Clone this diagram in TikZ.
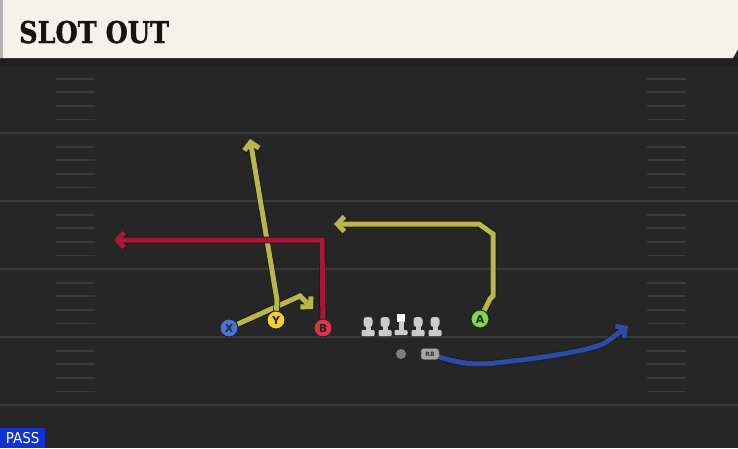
\documentclass[tikz,border=0pt]{standalone}
\usepackage{fontspec}
\setmainfont{DejaVu Sans}
\newfontfamily\titlefont{DejaVu Serif}[FakeStretch=0.85,FakeBold=1.2]
\newfontfamily\passfont{DejaVu Sans Condensed}
\usetikzlibrary{arrows.meta}
\definecolor{field}{HTML}{262626}
\definecolor{yardline}{HTML}{3A3A3A}
\definecolor{hashc}{HTML}{3A3A3A}
\definecolor{header}{HTML}{F4F2EB}
\definecolor{routey}{HTML}{B9B64E}
\definecolor{router}{HTML}{A9163B}
\definecolor{routeb}{HTML}{2B4CA2}
\definecolor{px}{HTML}{4A74DA}
\definecolor{py}{HTML}{F3CF2F}
\definecolor{pb}{HTML}{E23447}
\definecolor{pa}{HTML}{7ED84B}
\definecolor{lineman}{HTML}{CBCBCB}
\definecolor{passblue}{HTML}{1232D2}
\tikzset{
  route/.style={line width=5pt, line join=miter,
    preaction={draw=black!90, line width=6.6pt, -{Straight Barb[length=7pt,width=15pt,line width=6.6pt]}},
    -{Straight Barb[length=7pt,width=15pt,line width=5pt]}},
  player/.style={circle, draw=black!85, line width=1pt, minimum size=18pt, inner sep=0pt,
    font=\fontsize{11}{11}\selectfont\bfseries, text=black!85},
  hashmark/.style={draw=hashc, line width=1.8pt},
  yard/.style={draw=yardline, line width=2pt},
  ol/.style={fill=lineman, draw=none}
}
\begin{document}
\begin{tikzpicture}[x=1pt,y=-1pt]
\useasboundingbox (0,0) rectangle (738,448);
% field
\fill[field] (0,0) rectangle (738,448);
% yard lines
\foreach \yy in {133,201,269,337,405} {
  \draw[yard] (0,\yy) -- (738,\yy);
}
% hash marks
\foreach \base in {65,133,201,269,337} {
  \foreach \k in {1,2,3,4} {
    \draw[hashmark] (56,{\base+13.6*\k}) -- (95,{\base+13.6*\k});
    \draw[hashmark] (647,{\base+13.6*\k}) -- (686,{\base+13.6*\k});
  }
}
% header
\fill[black!88] (0,57) rectangle (738,66);
\fill[header] (0,0) -- (738,0) -- (738,49) -- (733,58) -- (0,58) -- cycle;
\fill[black!30] (0,0) rectangle (3,58);
\node[anchor=base west, inner sep=0pt, font=\titlefont\bfseries\fontsize{30}{30}\selectfont, text=black!92] (title) at (19,43) {SLOT OUT};
% PASS label
\node[anchor=south west, fill=passblue, text=white, inner sep=0pt, minimum width=45pt, minimum height=20pt,
  font=\passfont\fontsize{15}{15}\selectfont] (pass) at (0,448) {PASS};

% players (positions)
\coordinate (Xc) at (229,328);
\coordinate (Yc) at (276,320);
\coordinate (Bc) at (323,328);
\coordinate (Ac) at (480,319);
\coordinate (RBc) at (430,354);
% waypoints
\coordinate (x1) at (300,296);
\coordinate (x2) at (313,309);
\coordinate (y1) at (277,300);
\coordinate (y2) at (250,139);
\coordinate (b1) at (322,240);
\coordinate (b2) at (114,240);
\coordinate (a1) at (490,299);
\coordinate (a2) at (493,296);
\coordinate (a3) at (493,234);
\coordinate (a4) at (479,224);
\coordinate (a5) at (334,224);
\coordinate (r1) at (628,326);

% routes
\draw[route, routey] (Xc) -- (x1) -- (x2);
\draw[route, routey] (Yc) -- (y1) -- (y2);
\draw[route, router] (Bc) -- (b1) -- (b2);
\draw[route, routey] (Ac) -- (a1) -- (a2) -- (a3) -- (a4) -- (a5);
\draw[route, routeb] (RBc) .. controls (455,362) and (470,366) .. (495,363)
   .. controls (540,358) and (585,352) .. (605,343) -- (r1);

% players
\node[player, fill=px] (X) at (Xc) {X};
\node[player, fill=py] (Y) at (Yc) {Y};
\node[player, fill=pb] (B) at (Bc) {B};
\node[player, fill=pa] (A) at (Ac) {A};

% offensive line
\foreach \xx/\nm in {368/lt,385/lg,418/rg,435/rt} {
  \fill[ol, rounded corners=3pt] (\xx-4.5,317) rectangle (\xx+4.5,327);
  \fill[ol] (\xx-2.5,324) rectangle (\xx+2.5,332);
  \fill[ol, rounded corners=1pt] (\xx-6.5,330) rectangle (\xx+6.5,336);
  \coordinate (\nm) at (\xx,326);
}
\fill[white] (397,314) rectangle (405,322);
\fill[ol] (398.5,321) rectangle (403.5,331);
\fill[ol, rounded corners=1pt] (394.5,330) rectangle (407.5,335);
\coordinate (center) at (401,322);
% QB
\node[circle, fill=black!50, minimum size=10pt, inner sep=0pt] (qb) at (401,354) {};
% RB
\node[rounded corners=3pt, fill=black!35, draw=black!60, line width=0.5pt, minimum width=18pt, minimum height=11pt, inner sep=0pt,
  font=\fontsize{6}{6}\selectfont\bfseries, text=black!80] (RB) at (RBc) {RB};
\end{tikzpicture}
\end{document}
